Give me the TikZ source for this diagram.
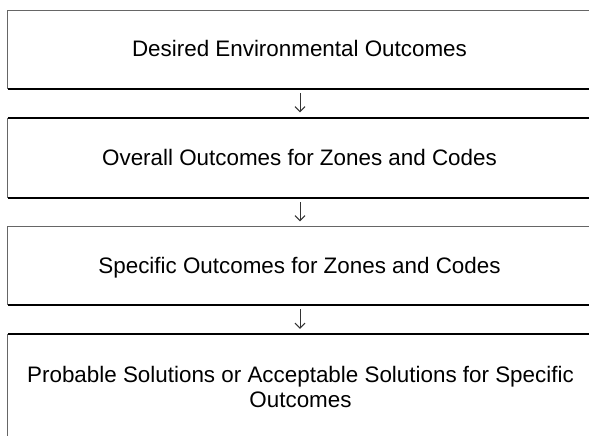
\documentclass[tikz,border=0pt]{standalone}
\usepackage{fontspec}
\setmainfont{Liberation Sans}
\usetikzlibrary{arrows.meta}
\tikzset{
  boxarea/.style={rectangle, draw=none, inner sep=0pt, minimum width=584pt},
  thinedge/.style={line width=1pt, draw=black!60},
  thickedge/.style={line width=2pt, draw=black},
  lbl/.style={inner sep=0pt, font=\fontsize{22.4}{25}\selectfont, text=black},
  flow/.style={line width=1pt, draw=black!80, -{Straight Barb[length=5pt,width=10pt]}, shorten <=4pt, shorten >=5.5pt}
}
\begin{document}
\begin{tikzpicture}[x=1pt,y=-1pt]
\useasboundingbox (0,0) rectangle (589,436);
% box areas
\node[boxarea, minimum height=78pt] (b1) at (300,50) {};
\node[boxarea, minimum height=80pt] (b2) at (300,158) {};
\node[boxarea, minimum height=78pt] (b3) at (300,266) {};
\node[boxarea, minimum height=110pt] (b4) at (300,389.5) {};
% borders
\draw[thinedge] (b1.north east) -- (b1.north west) -- (b1.south west);
\draw[thickedge] (b1.south west) -- (b1.south east);
\draw[thinedge] (b2.north west) -- (b2.south west);
\draw[thickedge] (b2.north west) -- (b2.north east);
\draw[thickedge] (b2.south west) -- (b2.south east);
\draw[thinedge] (b3.north east) -- (b3.north west) -- (b3.south west);
\draw[thickedge] (b3.south west) -- (b3.south east);
\draw[thinedge] (b4.north west) -- (b4.south west);
\draw[thickedge] (b4.north west) -- (b4.north east);
% labels
\node[lbl, anchor=base] (t1) at (299.5,57) {Desired Environmental Outcomes};
\node[lbl, anchor=base] (t2) at (299.5,165) {Overall Outcomes for Zones and Codes};
\node[lbl, anchor=base] (t3) at (299.5,273) {Specific Outcomes for Zones and Codes};
\node[lbl, anchor=base, align=center] (t4) at (300.5,407) {Probable Solutions or Acceptable Solutions for Specific\\Outcomes};
% arrows
\draw[flow] (b1.south) -- (b2.north);
\draw[flow] (b2.south) -- (b3.north);
\draw[flow] (b3.south) -- (b4.north);
\end{tikzpicture}
\end{document}
